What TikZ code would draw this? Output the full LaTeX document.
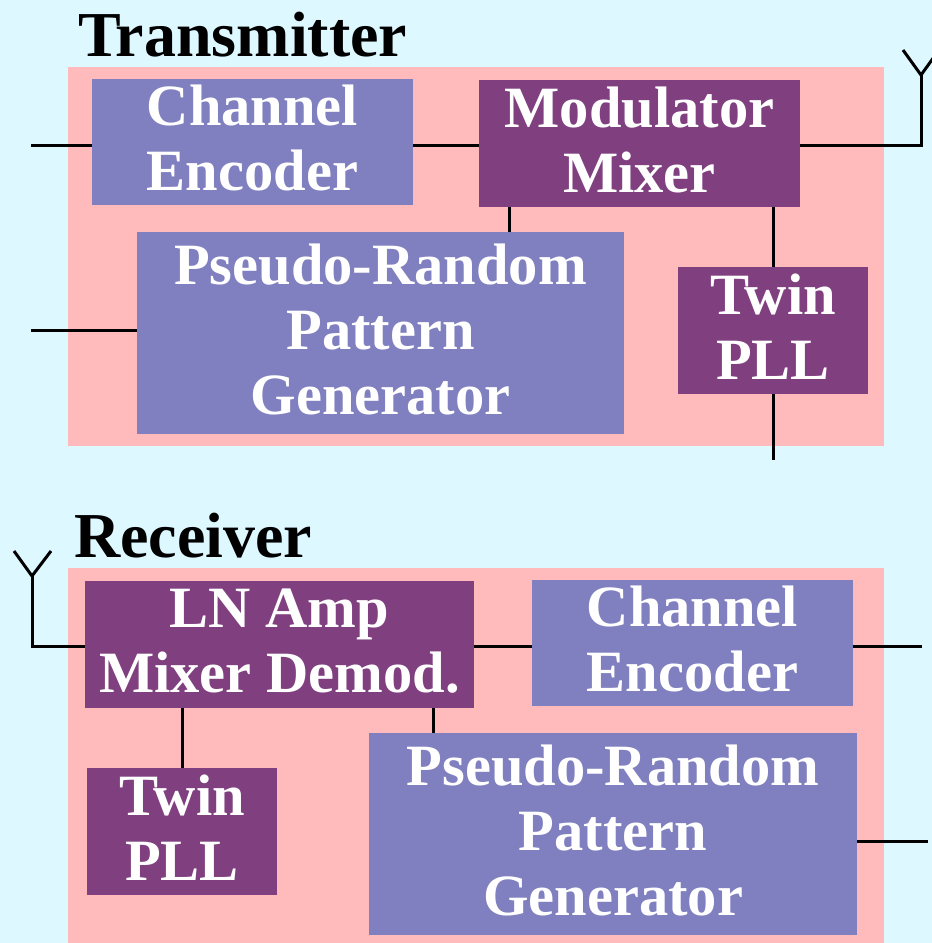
\documentclass[tikz,border=0pt]{standalone}
\usepackage{fontspec}
\setmainfont{Liberation Serif}
\definecolor{bgc}{HTML}{DDF8FF}
\definecolor{pinkc}{HTML}{FFBBBB}
\definecolor{bluec}{HTML}{8080C0}
\definecolor{purc}{HTML}{804080}
\tikzset{
  blockbase/.style={draw=none,inner sep=0pt,outer sep=0pt,text=white,align=center,
    font=\fontsize{58.5}{65}\bfseries\selectfont,
    execute at end node={\rule[-8.5pt]{0pt}{8.5pt}}},
  blueblock/.style={blockbase,fill=bluec},
  purpleblock/.style={blockbase,fill=purc},
  heading/.style={inner sep=0pt,outer sep=0pt,anchor=base west,text=black,font=\fontsize{64}{70}\bfseries\selectfont},
  wire/.style={draw=black,line width=3pt,line join=miter},
  antenna/.style={draw=black,line width=3pt,line join=miter}
}
\begin{document}
\begin{tikzpicture}[x=1pt,y=-1pt]
\path[use as bounding box,fill=bgc] (0,0) rectangle (932,943);
\path[fill=pinkc] (68,67) rectangle (884,446);
\path[fill=pinkc] (68,568) rectangle (884,943);
\node[heading] (ttx) at (78,56) {Transmitter};
\node[heading] (trx) at (74,557) {Receiver};
% transmitter
\node[blueblock,minimum width=321pt,minimum height=126pt] (tce) at (252.5,142) {Channel\\Encoder};
\node[purpleblock,minimum width=321pt,minimum height=127pt] (tmod) at (639.5,143.5) {Modulator\\Mixer};
\node[blueblock,minimum width=487pt,minimum height=202pt] (tpr) at (380.5,333) {Pseudo-Random\\Pattern\\Generator};
\node[purpleblock,minimum width=190pt,minimum height=127pt] (tpll) at (773,330.5) {Twin\\PLL};
% receiver
\node[purpleblock,minimum width=389pt,minimum height=127pt] (rmix) at (279.5,644.5) {LN Amp\\Mixer Demod.};
\node[blueblock,minimum width=321pt,minimum height=126pt] (rce) at (692.5,643) {Channel\\Encoder};
\node[blueblock,minimum width=488pt,minimum height=202pt] (rpr) at (613,834) {Pseudo-Random\\Pattern\\Generator};
\node[purpleblock,minimum width=190pt,minimum height=127pt] (rpll) at (182,831.5) {Twin\\PLL};
% free ends
\coordinate (a) at (31,145);
\coordinate (b) at (31,330);
\coordinate (c) at (773,460);
\coordinate (d) at (921,145);
\coordinate (e) at (921,75);
\coordinate (e1) at (903,50);
\coordinate (e2) at (939,50);
\coordinate (f) at (509,220);
\coordinate (g) at (32,646);
\coordinate (h) at (32,576);
\coordinate (h1) at (14,551);
\coordinate (h2) at (51,551);
\coordinate (i) at (922,646);
\coordinate (j) at (928,841);
\coordinate (k) at (433,720);
% transmitter wires
\draw[wire] (a) -- (a -| tce.west);
\draw[wire] (tce.east |- a) -- (tmod.west |- a);
\draw[wire] (tmod.east |- d) -- (d) -- (e);
\draw[antenna] (e1) -- (e) -- (e2);
\draw[wire] (f |- tmod.south) -- (f |- tpr.north);
\draw[wire] (tpll.north |- tmod.south) -- (tpll.north);
\draw[wire] (b) -- (b -| tpr.west);
\draw[wire] (tpll.south) -- (c);
% receiver wires
\draw[antenna] (h1) -- (h) -- (h2);
\draw[wire] (h) -- (g) -- (g -| rmix.west);
\draw[wire] (rmix.east |- g) -- (rce.west |- g);
\draw[wire] (rce.east |- i) -- (i);
\draw[wire] (rpr.east |- j) -- (j);
\draw[wire] (rpll.north |- rmix.south) -- (rpll.north);
\draw[wire] (k |- rmix.south) -- (k |- rpr.north);
\end{tikzpicture}
\end{document}
